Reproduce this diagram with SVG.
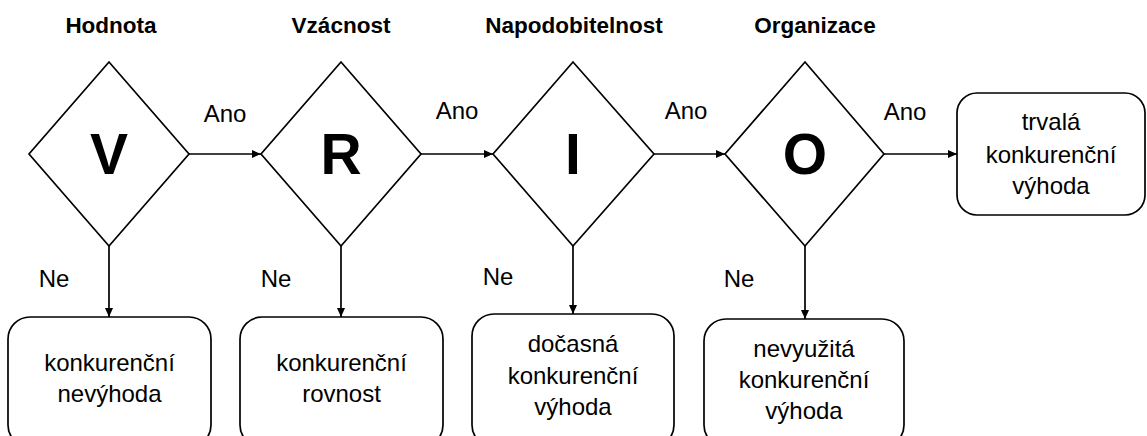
<svg xmlns="http://www.w3.org/2000/svg" width="1147" height="436" viewBox="0 0 1147 436">
<defs>
<style>
.shape{fill:#fff;stroke:#000;stroke-width:1.7}
.conn{fill:none;stroke:#000;stroke-width:1.7}
.title{font-family:"Liberation Sans",Arial,sans-serif;font-weight:bold;font-size:22.5px;text-anchor:middle;fill:#000}
.letter{font-family:"Liberation Sans",Arial,sans-serif;font-weight:bold;font-size:57px;text-anchor:middle;fill:#000}
.lbl{font-family:"Liberation Sans",Arial,sans-serif;font-size:24px;text-anchor:middle;fill:#000}
</style>
<marker id="arr" markerWidth="10" markerHeight="10" refX="9" refY="5" orient="auto" markerUnits="userSpaceOnUse">
<path d="M0,1 L9,5 L0,9 Z" fill="#000"/>
</marker>
</defs>
<rect width="1147" height="436" fill="#fff"/>

<g id="titles">
<text class="title" x="111" y="33">Hodnota</text>
<text class="title" x="341" y="33">Vzácnost</text>
<text class="title" x="574" y="33">Napodobitelnost</text>
<text class="title" x="815" y="33">Organizace</text>
</g>

<g id="connectors">
<line class="conn" x1="189" y1="154" x2="261" y2="154" marker-end="url(#arr)"/>
<line class="conn" x1="421" y1="154" x2="493" y2="154" marker-end="url(#arr)"/>
<line class="conn" x1="654" y1="154" x2="725" y2="154" marker-end="url(#arr)"/>
<line class="conn" x1="884" y1="154" x2="957" y2="154" marker-end="url(#arr)"/>
<line class="conn" x1="109" y1="246" x2="109" y2="317" marker-end="url(#arr)"/>
<line class="conn" x1="341" y1="246" x2="341" y2="317" marker-end="url(#arr)"/>
<line class="conn" x1="573" y1="246" x2="573" y2="314" marker-end="url(#arr)"/>
<line class="conn" x1="805" y1="246" x2="805" y2="319" marker-end="url(#arr)"/>
<text class="lbl" x="225" y="122">Ano</text>
<text class="lbl" x="457" y="119">Ano</text>
<text class="lbl" x="686" y="119">Ano</text>
<text class="lbl" x="905" y="120">Ano</text>
<text class="lbl" x="54" y="287">Ne</text>
<text class="lbl" x="276" y="287">Ne</text>
<text class="lbl" x="498" y="285">Ne</text>
<text class="lbl" x="739" y="287">Ne</text>
</g>

<g id="node-V">
<polygon class="shape" points="109,62 189,154 109,246 29,154"/>
<text class="letter" x="109" y="174">V</text>
</g>
<g id="node-R">
<polygon class="shape" points="341,62 421,154 341,246 261,154"/>
<text class="letter" x="341" y="174">R</text>
</g>
<g id="node-I">
<polygon class="shape" points="573,62 654,154 573,246 493,154"/>
<text class="letter" x="573" y="174">I</text>
</g>
<g id="node-O">
<polygon class="shape" points="805,62 884,154 805,246 725,154"/>
<text class="letter" x="805" y="174">O</text>
</g>

<g id="node-trvala">
<rect class="shape" x="957" y="93" width="188" height="122" rx="20" ry="20"/>
<text class="lbl" x="1051" y="130">trvalá</text>
<text class="lbl" x="1051" y="163">konkurenční</text>
<text class="lbl" x="1051" y="194">výhoda</text>
</g>
<g id="node-nevyhoda">
<rect class="shape" x="8" y="317" width="203" height="130" rx="22" ry="22"/>
<text class="lbl" x="109.5" y="371">konkurenční</text>
<text class="lbl" x="109.5" y="402">nevýhoda</text>
</g>
<g id="node-rovnost">
<rect class="shape" x="240" y="317" width="203" height="130" rx="22" ry="22"/>
<text class="lbl" x="341.5" y="371">konkurenční</text>
<text class="lbl" x="341.5" y="402">rovnost</text>
</g>
<g id="node-docasna">
<rect class="shape" x="472" y="314" width="202" height="133" rx="22" ry="22"/>
<text class="lbl" x="573" y="352">dočasná</text>
<text class="lbl" x="573" y="384">konkurenční</text>
<text class="lbl" x="573" y="415">výhoda</text>
</g>
<g id="node-nevyuzita">
<rect class="shape" x="704" y="319" width="200" height="128" rx="22" ry="22"/>
<text class="lbl" x="804" y="357">nevyužitá</text>
<text class="lbl" x="804" y="388">konkurenční</text>
<text class="lbl" x="804" y="419">výhoda</text>
</g>
</svg>
